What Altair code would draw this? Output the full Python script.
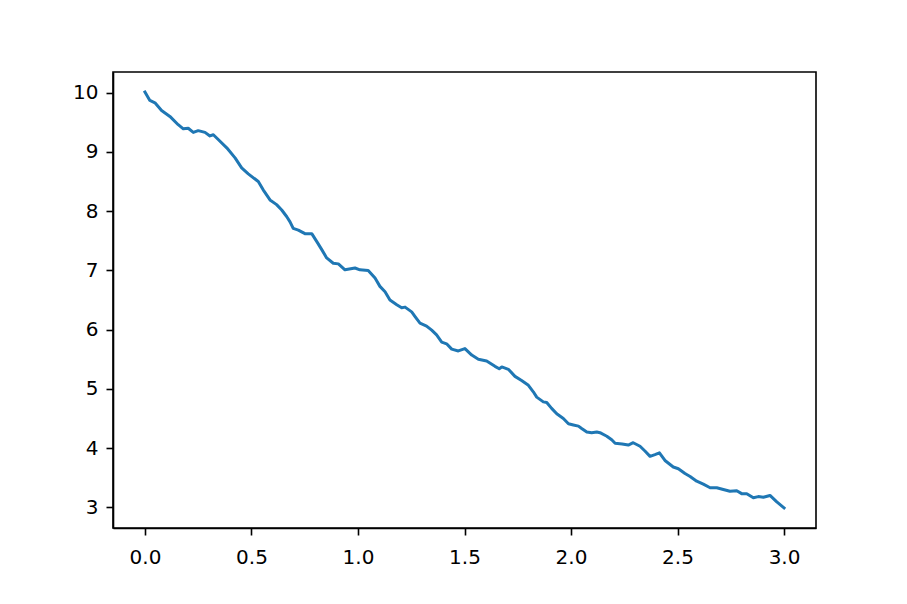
import altair as alt
import pandas as pd

xs = [0.000, 0.023, 0.047, 0.078, 0.117, 0.156, 0.180, 0.203, 0.227, 0.250,
      0.282, 0.305, 0.321, 0.344, 0.384, 0.423, 0.454, 0.485, 0.532, 0.555,
      0.587, 0.618, 0.642, 0.665, 0.681, 0.696, 0.720, 0.751, 0.783, 0.806,
      0.830, 0.853, 0.884, 0.908, 0.939, 0.986, 1.009, 1.048, 1.080, 1.103,
      1.127, 1.150, 1.182, 1.205, 1.221, 1.252, 1.268, 1.291, 1.322, 1.346,
      1.369, 1.393, 1.416, 1.440, 1.471, 1.502, 1.534, 1.565, 1.604, 1.643,
      1.663, 1.675, 1.706, 1.737, 1.768, 1.800, 1.823, 1.839, 1.870, 1.886,
      1.909, 1.933, 1.964, 1.988, 2.011, 2.035, 2.050, 2.074, 2.097, 2.121,
      2.136, 2.168, 2.191, 2.207, 2.240, 2.269, 2.292, 2.324, 2.347, 2.371,
      2.394, 2.415, 2.441, 2.480, 2.504, 2.535, 2.559, 2.590, 2.621, 2.653,
      2.684, 2.715, 2.746, 2.778, 2.801, 2.825, 2.856, 2.879, 2.903, 2.934,
      2.966, 3.000]
ys = [10.01, 9.87, 9.83, 9.70, 9.60, 9.46, 9.39, 9.40, 9.33, 9.36,
      9.33, 9.27, 9.29, 9.21, 9.07, 8.90, 8.73, 8.63, 8.50, 8.36,
      8.19, 8.11, 8.02, 7.91, 7.82, 7.71, 7.68, 7.62, 7.62, 7.49,
      7.35, 7.21, 7.12, 7.11, 7.01, 7.04, 7.01, 7.00, 6.87, 6.73,
      6.64, 6.50, 6.42, 6.37, 6.38, 6.30, 6.22, 6.11, 6.06, 5.99,
      5.91, 5.79, 5.76, 5.67, 5.64, 5.68, 5.57, 5.50, 5.47, 5.38,
      5.34, 5.37, 5.33, 5.21, 5.14, 5.06, 4.95, 4.86, 4.78, 4.77,
      4.67, 4.58, 4.50, 4.41, 4.39, 4.37, 4.33, 4.27, 4.26, 4.27,
      4.26, 4.20, 4.14, 4.08, 4.07, 4.05, 4.09, 4.03, 3.95, 3.86,
      3.89, 3.92, 3.79, 3.68, 3.65, 3.57, 3.52, 3.44, 3.39, 3.33,
      3.33, 3.30, 3.27, 3.28, 3.23, 3.23, 3.16, 3.18, 3.17, 3.20,
      3.09, 2.99]

x_ticks = [0.0, 0.5, 1.0, 1.5, 2.0, 2.5, 3.0]
y_ticks = [3, 4, 5, 6, 7, 8, 9, 10]

df = pd.DataFrame({"x": xs, "y": ys})

axis_common = dict(
    grid=False,
    domainColor="black",
    domainWidth=1.6,
    tickColor="black",
    tickWidth=1.6,
    tickSize=7,
    labelFont="DejaVu Sans",
    labelFontSize=20,
    labelColor="black",
    title=None,
)

chart = alt.Chart(df).mark_line(color="#1f77b4", strokeWidth=3, strokeJoin="round", strokeCap="square").encode(
    x=alt.X("x:Q", scale=alt.Scale(domain=[-0.15, 3.15], nice=False, zero=False),
            axis=alt.Axis(values=x_ticks, format=".1f", labelPadding=12, **axis_common)),
    y=alt.Y("y:Q", scale=alt.Scale(domain=[2.65, 10.35], nice=False, zero=False),
            axis=alt.Axis(values=y_ticks, format="d", labelPadding=8, **axis_common)),
).properties(
    width=703, height=456,
    autosize=alt.AutoSizeParams(type="none"),
    padding={"left": 105, "top": 64, "right": 83, "bottom": 68},
).configure_view(
    stroke="black", strokeWidth=1.6
)

chart.save("out.html", embed_options={"renderer": "svg", "actions": False})
